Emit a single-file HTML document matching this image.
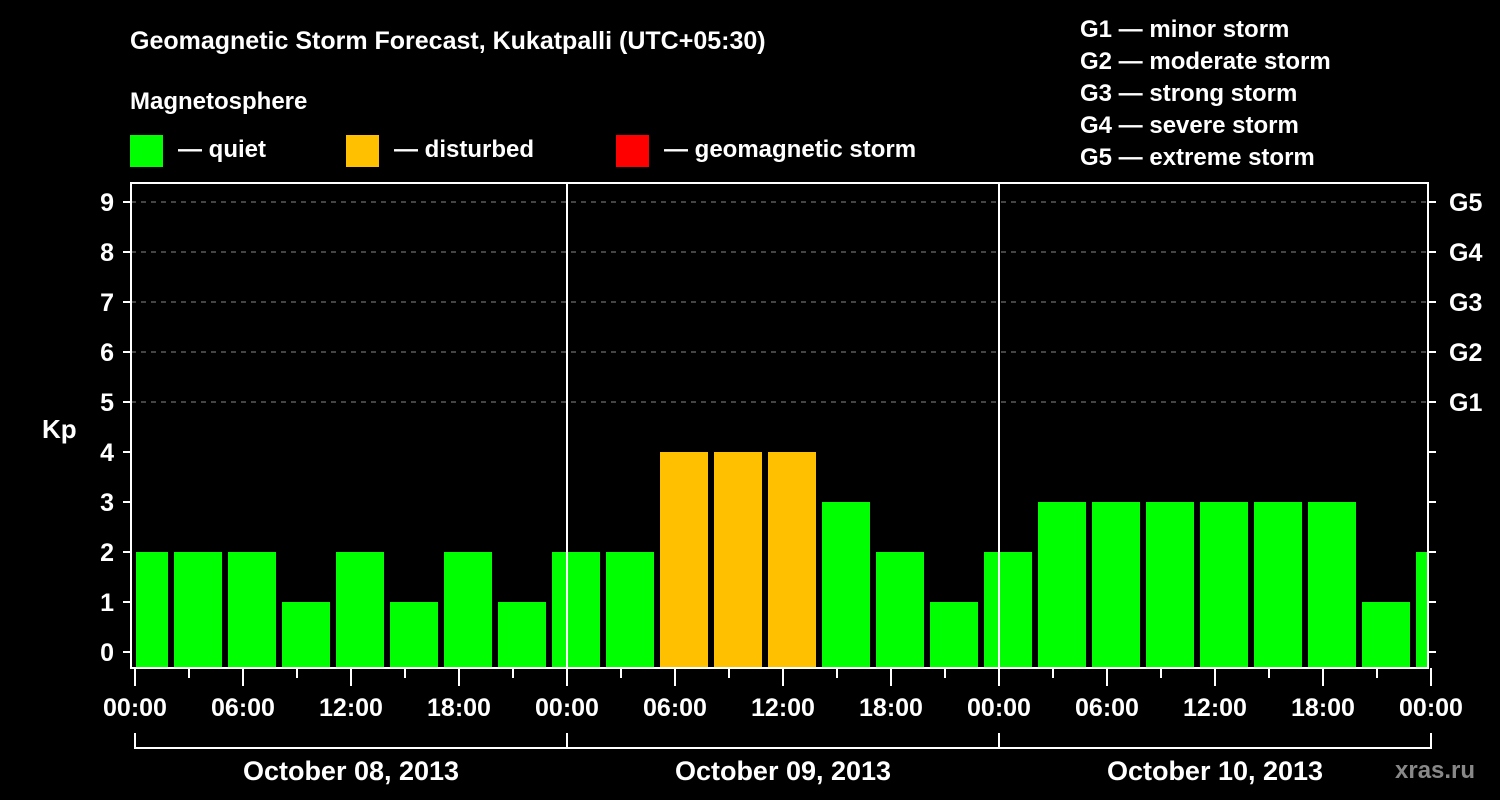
<!DOCTYPE html>
<html><head><meta charset="utf-8">
<style>
html,body{margin:0;padding:0;background:#000;}
svg{display:block;font-family:"Liberation Sans",sans-serif;font-weight:bold;}
</style></head>
<body>
<svg id="chart" width="1500" height="800" xmlns="http://www.w3.org/2000/svg">
<rect width="1500" height="800" fill="#000"/>
<text x="130" y="49" fill="#fff" font-size="25">Geomagnetic Storm Forecast, Kukatpalli (UTC+05:30)</text>
<text x="130" y="109" fill="#fff" font-size="24">Magnetosphere</text>
<g><rect x="130" y="135" width="33" height="32" fill="#00ff00"/><text x="178" y="157" fill="#fff" font-size="24">— quiet</text></g>
<g><rect x="346" y="135" width="33" height="32" fill="#ffc000"/><text x="394" y="157" fill="#fff" font-size="24">— disturbed</text></g>
<g><rect x="616" y="135" width="33" height="32" fill="#ff0000"/><text x="664" y="157" fill="#fff" font-size="24">— geomagnetic storm</text></g>
<g fill="#fff" font-size="24">
<text x="1080" y="37">G1 — minor storm</text>
<text x="1080" y="69">G2 — moderate storm</text>
<text x="1080" y="101">G3 — strong storm</text>
<text x="1080" y="133">G4 — severe storm</text>
<text x="1080" y="165">G5 — extreme storm</text>
</g>
<text x="42" y="438" fill="#fff" font-size="26">Kp</text>
<g id="grid"></g>
<g id="bars"></g>
<g id="axes"></g>
<text x="1395" y="778" fill="#888" font-size="24">xras.ru</text>
</svg>
<script>
const kpValues = [2,2,2,1,2,1,2,1,2,2,4,4,4,3,2,1,2,3,3,3,3,3,3,1,2];
const binStartHour = -1;
const binHours = 3;
const yTickLabels = ["0","1","2","3","4","5","6","7","8","9"];
const gLabels = ["G1","G2","G3","G4","G5"];
const xTickLabels = ["00:00","06:00","12:00","18:00","00:00","06:00","12:00","18:00","00:00","06:00","12:00","18:00","00:00"];
const dateLabels = ["October 08, 2013","October 09, 2013","October 10, 2013"];

const NS="http://www.w3.org/2000/svg";
const L=131,R=1428,T=183,B=668,X0=135,PXH=18;
function xH(h){return X0+h*PXH;}
function yK(k){return 652-k*50;}
function mk(tag,attrs,parent){const e=document.createElementNS(NS,tag);for(const k in attrs)e.setAttribute(k,attrs[k]);parent.appendChild(e);return e;}
const grid=document.getElementById('grid'),bars=document.getElementById('bars'),axes=document.getElementById('axes');

// grid lines
for(let k=5;k<=9;k++){
  const g=mk('line',{x1:L,x2:R,y1:yK(k),y2:yK(k),stroke:'#888','stroke-width':1,'stroke-dasharray':'5,5'},grid);
  
  
}
// bars
kpValues.forEach((v,i)=>{
  let x1=xH(binStartHour+i*binHours)+3, x2=x1+48;
  x1=Math.max(x1,L+5); x2=Math.min(x2,R);
  if(x2<=x1)return;
  const col=v>=5?'#ff0000':(v>=4?'#ffc000':'#00ff00');
  const r=mk('rect',{x:x1,y:yK(v),width:x2-x1,height:B-yK(v),fill:col},bars);
  
  
});
// day separators
[1,2].forEach(d=>{
  const l=mk('line',{x1:xH(24*d),x2:xH(24*d),y1:T,y2:B,stroke:'#fff','stroke-width':2},axes);
  
  
});
// frame
const fr=mk('rect',{x:L,y:T,width:R-L,height:B-T,fill:'none',stroke:'#fff','stroke-width':2},axes);


// y ticks
yTickLabels.forEach((t,k)=>{
  const y=yK(k);
  mk('line',{x1:123,x2:L,y1:y,y2:y,stroke:'#fff','stroke-width':2},axes);
  mk('line',{x1:R,x2:R+8,y1:y,y2:y,stroke:'#fff','stroke-width':2},axes);
  const tx=mk('text',{x:114,y:y+9,fill:'#fff','font-size':25,'text-anchor':'end'},axes);
  tx.textContent=t;
  
  
});
gLabels.forEach((t,i)=>{
  const tx=mk('text',{x:1449,y:yK(5+i)+9,fill:'#fff','font-size':25},axes);
  tx.textContent=t;
  
  
});
// x ticks
for(let h=0;h<=72;h+=3){
  const major=h%6===0;
  mk('line',{x1:xH(h),x2:xH(h),y1:B,y2:B+(major?18:10),stroke:'#fff','stroke-width':2},axes);
}
xTickLabels.forEach((t,i)=>{
  const tx=mk('text',{x:xH(i*6),y:716,fill:'#fff','font-size':25,'text-anchor':'middle'},axes);
  tx.textContent=t;
  
  
});
// date bracket
mk('line',{x1:xH(0),x2:xH(72),y1:748,y2:748,stroke:'#fff','stroke-width':2},axes);
for(let d=0;d<=3;d++){mk('line',{x1:xH(24*d),x2:xH(24*d),y1:733,y2:749,stroke:'#fff','stroke-width':2},axes);}
dateLabels.forEach((t,i)=>{
  const tx=mk('text',{x:xH(24*i+12),y:780,fill:'#fff','font-size':27,'text-anchor':'middle'},axes);
  tx.textContent=t;
  
  
});
</script>
</body></html>
